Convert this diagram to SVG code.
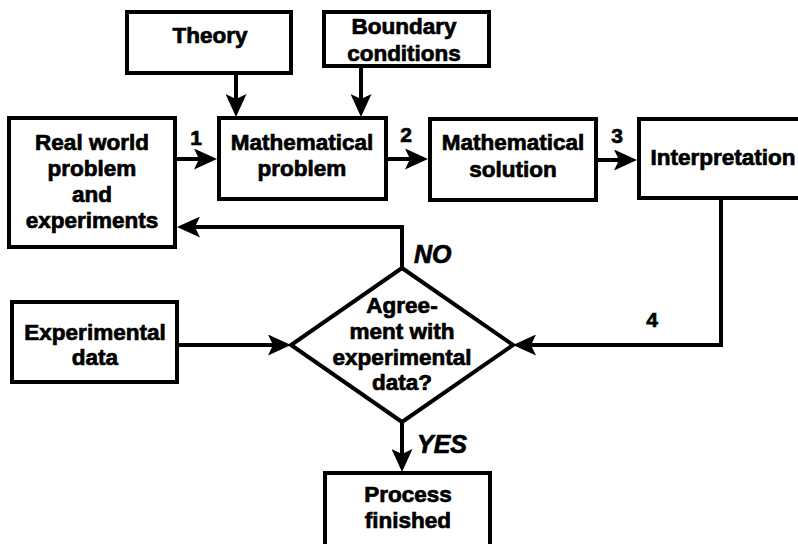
<svg xmlns="http://www.w3.org/2000/svg" width="798" height="544" viewBox="0 0 798 544">
  <style>
    .box { fill: #fff; stroke: #000; stroke-width: 4; }
    .wire { fill: none; stroke: #000; stroke-width: 4; }
    .lbl { font-family: "Liberation Sans", Arial, sans-serif; font-weight: bold; font-size: 22.5px; text-anchor: middle; fill: #000; stroke: #000; stroke-width: 0.7px; }
    .num { font-family: "Liberation Sans", Arial, sans-serif; font-weight: bold; font-size: 21px; text-anchor: middle; fill: #000; stroke: #000; stroke-width: 0.7px; }
    .ans { font-family: "Liberation Sans", Arial, sans-serif; font-weight: bold; font-style: italic; font-size: 25px; fill: #000; stroke: #000; stroke-width: 0.7px; }
  </style>
  <defs>
    <marker id="head" viewBox="0 0 23 21" refX="5" refY="10.5" markerWidth="23" markerHeight="21" markerUnits="userSpaceOnUse" orient="auto">
      <path d="M0,0 L23,10.5 L0,21 L5,10.5 Z" fill="#000"/>
    </marker>
  </defs>
  <rect width="798" height="544" fill="#fff"/>

  <!-- connectors -->
  <g id="connectors">
    <path class="wire" d="M236,75 V99" marker-end="url(#head)"/>
    <path class="wire" d="M361,68 V99" marker-end="url(#head)"/>
    <path class="wire" d="M177,159 H199" marker-end="url(#head)"/>
    <path class="wire" d="M388,159 H410" marker-end="url(#head)"/>
    <path class="wire" d="M598,160 H619" marker-end="url(#head)"/>
    <path class="wire" d="M402,268 V227 H195" marker-end="url(#head)"/>
    <path class="wire" d="M721,200 V345 H531" marker-end="url(#head)"/>
    <path class="wire" d="M179,345 H273" marker-end="url(#head)"/>
    <path class="wire" d="M402,422 V454" marker-end="url(#head)"/>
    <text class="num" x="196" y="145">1</text>
    <text class="num" x="406" y="142">2</text>
    <text class="num" x="617" y="143">3</text>
    <text class="num" x="652" y="327">4</text>
    <text class="ans" x="414" y="263">NO</text>
    <text class="ans" x="417" y="453">YES</text>
  </g>

  <g id="theory">
    <rect class="box" x="127" y="12" width="164" height="61"/>
    <text class="lbl" x="210" y="43">Theory</text>
  </g>
  <g id="boundary">
    <rect class="box" x="324" y="12" width="165" height="54"/>
    <text class="lbl" x="404" y="34">Boundary</text>
    <text class="lbl" x="404" y="61">conditions</text>
  </g>
  <g id="real-world">
    <rect class="box" x="9" y="118" width="166" height="129"/>
    <text class="lbl" x="92" y="150">Real world</text>
    <text class="lbl" x="92" y="176">problem</text>
    <text class="lbl" x="92" y="202">and</text>
    <text class="lbl" x="92" y="228">experiments</text>
  </g>
  <g id="math-problem">
    <rect class="box" x="219" y="118" width="167" height="81"/>
    <text class="lbl" x="302" y="150">Mathematical</text>
    <text class="lbl" x="302" y="176">problem</text>
  </g>
  <g id="math-solution">
    <rect class="box" x="430" y="119" width="166" height="81"/>
    <text class="lbl" x="513" y="150">Mathematical</text>
    <text class="lbl" x="513" y="177">solution</text>
  </g>
  <g id="interpretation">
    <rect class="box" x="639" y="119" width="170" height="79"/>
    <text class="lbl" x="723" y="165">Interpretation</text>
  </g>
  <g id="experimental-data">
    <rect class="box" x="12" y="302" width="165" height="80"/>
    <text class="lbl" x="95" y="340">Experimental</text>
    <text class="lbl" x="95" y="365">data</text>
  </g>
  <g id="agreement">
    <polygon class="box" points="402,268 513,345 402,422 291,345"/>
    <text class="lbl" x="402" y="313">Agree-</text>
    <text class="lbl" x="402" y="339">ment with</text>
    <text class="lbl" x="402" y="365">experimental</text>
    <text class="lbl" x="402" y="390">data?</text>
  </g>
  <g id="finished">
    <rect class="box" x="325" y="473" width="165" height="90"/>
    <text class="lbl" x="408" y="502">Process</text>
    <text class="lbl" x="408" y="528">finished</text>
  </g>
</svg>
